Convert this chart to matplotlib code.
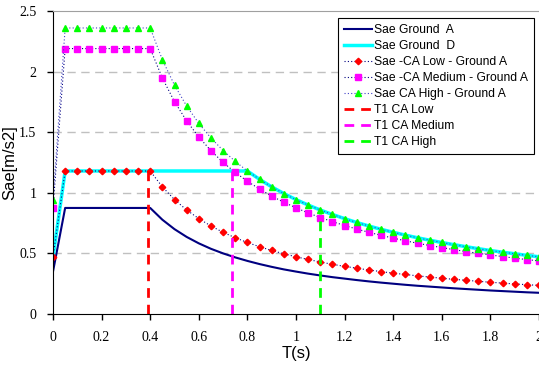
import matplotlib
matplotlib.use("Agg")
import matplotlib.pyplot as plt

T = [0.00, 0.05, 0.10, 0.15, 0.20, 0.25, 0.30, 0.35, 0.40, 0.45,
     0.50, 0.55, 0.60, 0.65, 0.70, 0.75, 0.80, 0.85, 0.90, 0.95,
     1.00, 1.05, 1.10, 1.15, 1.20, 1.25, 1.30, 1.35, 1.40, 1.45,
     1.50, 1.55, 1.60, 1.65, 1.70, 1.75, 1.80, 1.85, 1.90, 1.95, 2.00]

ground_a = [0.35, 0.875, 0.875, 0.875, 0.875, 0.875, 0.875, 0.875, 0.875, 0.778,
            0.700, 0.636, 0.583, 0.538, 0.500, 0.467, 0.438, 0.412, 0.389, 0.368,
            0.350, 0.333, 0.318, 0.304, 0.292, 0.280, 0.269, 0.259, 0.250, 0.241,
            0.233, 0.226, 0.219, 0.212, 0.206, 0.200, 0.194, 0.189, 0.184, 0.179, 0.175]

ground_d = [0.47, 1.18, 1.18, 1.18, 1.18, 1.18, 1.18, 1.18, 1.18, 1.18,
            1.18, 1.18, 1.18, 1.18, 1.18, 1.18, 1.18, 1.111, 1.049, 0.994,
            0.944, 0.899, 0.858, 0.821, 0.787, 0.755, 0.726, 0.699, 0.674, 0.651,
            0.629, 0.609, 0.590, 0.572, 0.555, 0.539, 0.524, 0.510, 0.497, 0.484, 0.472]

ca_low = [0.47, 1.18, 1.18, 1.18, 1.18, 1.18, 1.18, 1.18, 1.18, 1.049,
          0.944, 0.858, 0.787, 0.726, 0.674, 0.629, 0.590, 0.555, 0.524, 0.497,
          0.472, 0.450, 0.429, 0.410, 0.393, 0.378, 0.363, 0.350, 0.337, 0.326,
          0.315, 0.305, 0.295, 0.286, 0.278, 0.270, 0.262, 0.255, 0.248, 0.242, 0.236]

ca_medium = [0.875, 2.19, 2.19, 2.19, 2.19, 2.19, 2.19, 2.19, 2.19, 1.947,
             1.752, 1.593, 1.460, 1.348, 1.251, 1.168, 1.095, 1.031, 0.973, 0.922,
             0.876, 0.834, 0.796, 0.762, 0.730, 0.701, 0.674, 0.649, 0.626, 0.604,
             0.584, 0.565, 0.548, 0.531, 0.515, 0.501, 0.487, 0.474, 0.461, 0.449, 0.438]

ca_high = [0.94, 2.36, 2.36, 2.36, 2.36, 2.36, 2.36, 2.36, 2.36, 2.098,
           1.888, 1.716, 1.573, 1.452, 1.349, 1.259, 1.180, 1.111, 1.049, 0.994,
           0.944, 0.899, 0.858, 0.821, 0.787, 0.755, 0.726, 0.699, 0.674, 0.651,
           0.629, 0.609, 0.590, 0.572, 0.555, 0.539, 0.524, 0.510, 0.497, 0.484, 0.472]

t1_low = [0.393, 0.393]
t1_low_y = [0.0, 1.18]
t1_medium = [0.738, 0.738]
t1_medium_y = [0.0, 1.18]
t1_high = [1.098, 1.098]
t1_high_y = [0.0, 0.86]

x_ticks = [0, 0.2, 0.4, 0.6, 0.8, 1, 1.2, 1.4, 1.6, 1.8, 2]
x_tick_labels = ["0", "0.2", "0.4", "0.6", "0.8", "1", "1.2", "1.4", "1.6", "1.8", "2"]
y_ticks = [0, 0.5, 1, 1.5, 2, 2.5]
y_tick_labels = ["0", "0.5", "1", "1.5", "2", "2.5"]

fig = plt.figure(figsize=(5.39, 3.67), dpi=100)
ax = fig.add_axes([53/539, (367-314)/367, 1 - 53/539, (314-11)/367])

ax.plot(T, ground_a, color="#000080", lw=1.5, label="Sae Ground  A")
ax.plot(T, ground_d, color="#00ffff", lw=2.5, label="Sae Ground  D")
ax.plot(T, ca_low, color="#000080", lw=0.8, ls=(0, (1, 2)), marker="D",
        markersize=3.3, markerfacecolor="#ff0000", markeredgecolor="#ff0000",
        label="Sae -CA Low - Ground A")
ax.plot(T, ca_medium, color="#000080", lw=0.8, ls=(0, (1, 2)), marker="s",
        markersize=4.8, markerfacecolor="#ff00ff", markeredgecolor="#ff00ff",
        label="Sae -CA Medium - Ground A")
ax.plot(T, ca_high, color="#4040c8", lw=0.8, ls=(0, (1, 2)), marker="^",
        markersize=5, markerfacecolor="#00ff00", markeredgecolor="#00ff00",
        label="Sae CA High - Ground A")
ax.plot(t1_low, t1_low_y, color="#ff0000", lw=2, ls=(0, (3.5, 2.5)), label="T1 CA Low")
ax.plot(t1_medium, t1_medium_y, color="#ff00ff", lw=2, ls=(0, (3.5, 2.5)), label="T1 CA Medium")
ax.plot(t1_high, t1_high_y, color="#00ff00", lw=2, ls=(0, (3.5, 2.5)), label="T1 CA High")

ax.set_xlim(0, 2)
ax.set_ylim(0, 2.5)
ax.set_xticks(x_ticks)
ax.set_xticklabels(x_tick_labels, family="Liberation Serif", fontsize=10)
ax.set_yticks(y_ticks)
ax.set_yticklabels(y_tick_labels, family="Liberation Serif", fontsize=10)
ax.tick_params(direction="out", length=4, width=1, pad=8)

for yv in [0.5, 1, 1.5, 2]:
    ax.axhline(yv, color="#c0c0c0", lw=1, ls=(0, (6, 4)), zorder=0)

ax.spines["right"].set_visible(False)
ax.spines["top"].set_color("#a0a0a0")
ax.spines["left"].set_color("black")
ax.spines["bottom"].set_color("black")

ax.set_xlabel("T(s)", family="Liberation Sans", fontsize=12, labelpad=2)
ax.set_ylabel("Sae[m/s2]", family="Liberation Sans", fontsize=12)
ax.yaxis.set_label_coords((17 - 53) / 486, 0.5)

leg = ax.legend(loc="upper left", bbox_to_anchor=((338-53)/486, (314-18)/303),
                prop={"family": "Liberation Sans", "size": 8.7}, frameon=True,
                fancybox=False, edgecolor="black", framealpha=1,
                handlelength=2.3, handletextpad=0.15, labelspacing=0.33,
                borderpad=0.5, borderaxespad=0)
leg.get_frame().set_linewidth(0.8)

fig.savefig("out.png", dpi=100)
